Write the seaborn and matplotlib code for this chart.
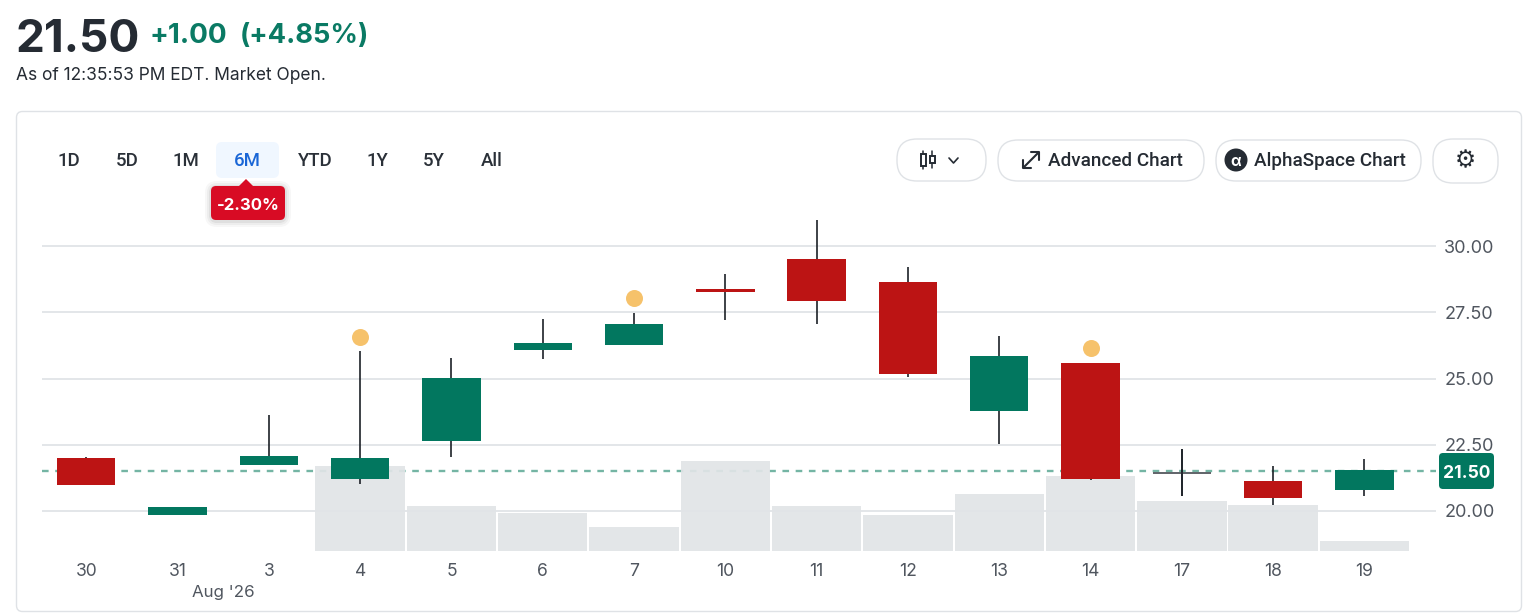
import matplotlib
matplotlib.use("Agg")
import pandas as pd
import seaborn as sns
import matplotlib.pyplot as plt
from matplotlib.patches import FancyBboxPatch, Circle, Polygon, Rectangle

W, H = 1528, 616

### data
days = ['30', '31', '3', '4', '5', '6', '7', '10', '11', '12', '13', '14', '17', '18', '19']
body_top = [22.00, 20.15, 22.08, 22.00, 25.02, 26.34, 27.06, 28.39, 29.51, 28.64, 25.85, 25.58, 21.49, 21.13, 21.55]
body_bottom = [20.98, 19.85, 21.74, 21.21, 22.64, 26.08, 26.26, 28.26, 27.92, 25.17, 23.77, 21.21, 21.39, 20.49, 20.81]
high = [22.04, 20.15, 23.62, 26.04, 25.77, 27.25, 27.47, 28.94, 30.98, 29.21, 26.60, 25.58, 22.34, 21.70, 21.96]
low = [20.98, 19.85, 21.74, 21.02, 22.04, 25.74, 26.26, 27.21, 27.06, 25.06, 22.53, 21.17, 20.57, 20.23, 20.57]
kind = ['down', 'up', 'up', 'up', 'up', 'up', 'up', 'down', 'down', 'down', 'up', 'down', 'flat', 'down', 'up']
volume = [0, 0, 0, 85, 45, 38, 24, 90, 45, 36, 57, 75, 50, 46, 10]
event_days = ['4', '7', '14']
event_price = [26.57, 28.04, 26.15]
price_ticks = [20, 22.5, 25, 27.5, 30]
last_price = 21.50
tabs = ['1D', '5D', '1M', '6M', 'YTD', '1Y', '5Y', 'All']

GREEN = '#02775f'
RED = '#bc1414'
INK = '#252b33'
GREY = '#50565f'
colors = {'up': GREEN, 'down': RED, 'flat': '#63676c'}

sns.set_theme(style='white')
plt.rcParams['font.family'] = ['Inter', 'DejaVu Sans']

fig = plt.figure(figsize=(W / 100, H / 100), dpi=100, facecolor='white')

### overlay in pixel coordinates for the page around the chart
page = fig.add_axes([0, 0, 1, 1], zorder=0)
page.set_xlim(0, W)
page.set_ylim(H, 0)
page.axis('off')


def rounded(x0, y0, x1, y1, r, **kw):
    page.add_patch(FancyBboxPatch((x0 + r, y0 + r), x1 - x0 - 2 * r, y1 - y0 - 2 * r,
                                  boxstyle='round,pad=%s,rounding_size=%s' % (r, r), **kw))


rounded(16.5, 111.5, 1521.5, 611.5, 6, fc='white', ec='#dfe2e6', lw=1)

page.text(15, 35, '21.50', fontsize=33, fontweight='bold', color=INK, va='center_baseline')
page.text(150, 33, '+1.00', fontsize=20, fontweight='bold', color='#0a7a64', va='center_baseline')
page.text(240, 33, '(+4.85%)', fontsize=19.6, fontweight='bold', color='#0a7a64', va='center_baseline')
page.text(16, 73.5, 'As of 12:35:53 PM EDT. Market Open.', fontsize=12.5, color=INK, va='center_baseline')

### range tabs
rounded(216, 142, 279, 178, 6, fc='#f0f7ff', ec='none')
tab_x = [69, 127, 186, 247, 315, 377, 434, 492]
for t, x in zip(tabs, tab_x):
    page.text(x, 158.5, t, family='Roboto', fontsize=13.4, fontweight='medium', ha='center', va='center_baseline',
              color='#1a66d6' if t == '6M' else '#2a3038')
for grow, alpha in [(6, 0.03), (4, 0.04), (2, 0.06)]:
    rounded(211 - grow, 186 - grow + 1, 285 + grow, 220 + grow + 1, 6 + grow, fc='black', ec='none', alpha=alpha)
rounded(211, 186, 285, 220, 5, fc='#d80b24', ec='none')
page.add_patch(Polygon([[239, 186], [246, 179], [253, 186]], fc='#d80b24', ec='none'))
page.text(248, 204, '-2.30%', fontsize=12, fontweight='bold', color='white', ha='center', va='center_baseline')

### buttons
for x0, x1, y0, y1 in [(897, 986, 139, 181), (998, 1204, 140, 181), (1216, 1421, 140, 181), (1433, 1498, 139, 183)]:
    rounded(x0, y0, x1, y1, 20, fc='white', ec='#dfe2e6', lw=1)
page.text(1048, 159.5, 'Advanced Chart', family='Roboto', fontsize=13.6, fontweight='medium', color=INK, va='center_baseline')
page.text(1254, 159.5, 'AlphaSpace Chart', family='Roboto', fontsize=13.6, fontweight='medium', color=INK, va='center_baseline')
page.add_patch(Circle((1236, 160), 11.5, fc=INK, ec='none'))
page.text(1236, 160, 'α', fontsize=11, fontweight='bold', color='white', ha='center', va='center_baseline')
page.text(1465.5, 160, '⚙', family='DejaVu Sans', fontsize=17, color=INK, ha='center', va='center')
# candle icon and chevron
for x, y0, y1, b0, b1 in [(923, 151, 169, 154, 166), (932, 151, 168, 156, 163)]:
    page.plot([x, x], [y0, y1], color=INK, lw=1.1)
    page.add_patch(Rectangle((x - 2.5, b0), 5, b1 - b0, fc='white', ec=INK, lw=1.4, zorder=3))
page.plot([949, 953.5, 958], [158, 163, 158], color=INK, lw=1.2)
# expand arrow
page.plot([1024, 1038], [167, 153], color=INK, lw=1.5)
page.plot([1031, 1039, 1039], [152, 152, 160], color=INK, lw=1.5)
page.plot([1023, 1023, 1031], [160, 168, 168], color=INK, lw=1.5)
page.text(223, 591, "Aug '26", fontsize=12.2, color=GREY, ha='center', va='center_baseline')

### chart: grid below, volume in the middle, candles on top
ax = fig.add_axes([42 / W, (H - 551) / H, (1436 - 42) / W, 351 / H], zorder=1)
ax.patch.set_alpha(0)
ax.set_ylim(18.49, 31.74)
for s in ax.spines.values():
    s.set_visible(False)
ax.hlines(price_ticks, 0, 1, transform=ax.get_yaxis_transform(), color='#e3e6e9', lw=1.4, zorder=1)
ax.axhline(last_price, color='#74b5a4', lw=1.7, dashes=(2.8, 2.8), zorder=2)

vol_ax = ax.twinx()
vol_df = pd.DataFrame({'day': days, 'volume': volume})
sns.barplot(data=vol_df, x='day', y='volume', order=days, color='#e1e4e7', saturation=1, width=0.98,
            alpha=0.92, linewidth=0, ax=vol_ax)
vol_ax.set_ylim(0, 351)
vol_ax.axis('off')

candle_ax = ax.twinx()
candle_ax.set_ylim(ax.get_ylim())
candle_ax.axis('off')
pos = list(range(len(days)))
candle_ax.vlines(pos, low, high, color='#1c2127', lw=1.2, zorder=2)
candle_ax.bar(pos, [t - b for t, b in zip(body_top, body_bottom)], bottom=body_bottom, width=0.64,
              color=[colors[k] for k in kind], linewidth=0, zorder=3)
# the doji's wick stays in front of its thin body
flat = kind.index('flat')
candle_ax.vlines(pos[flat], low[flat], high[flat], color='#1c2127', lw=1.2, zorder=4)

event_df = pd.DataFrame({'x': [days.index(d) for d in event_days], 'price': event_price})
sns.scatterplot(data=event_df, x='x', y='price', color='#f6c26b', s=150, linewidth=0, zorder=5, legend=False, ax=candle_ax)
candle_ax.set_xlabel('')
candle_ax.set_ylabel('')

# twinx moves the main ticks back to the left, so set them up after the twins
ax.set_yticks(price_ticks)
ax.set_yticklabels(['%.2f' % p for p in price_ticks])
ax.yaxis.tick_right()
ax.tick_params(axis='both', length=0, labelsize=12.6, labelcolor=GREY)
ax.tick_params(axis='y', pad=6, labelsize=13)
ax.tick_params(axis='x', pad=9)
ax.set_xticks(pos)
ax.set_xticklabels(days)
ax.set_xlim(-0.485, 14.784)
ax.set_xlabel('')
ax.set_ylabel('')

### last price badge
top = fig.add_axes([0, 0, 1, 1], zorder=5)
top.set_xlim(0, W)
top.set_ylim(H, 0)
top.axis('off')
top.add_patch(FancyBboxPatch((1443, 457), 47, 28, boxstyle='round,pad=4,rounding_size=4', fc=GREEN, ec='none'))
top.text(1466.5, 471, '%.2f' % last_price, fontsize=12.6, fontweight='bold', color='white', ha='center', va='center_baseline')

fig.savefig('out.png', dpi=100)
